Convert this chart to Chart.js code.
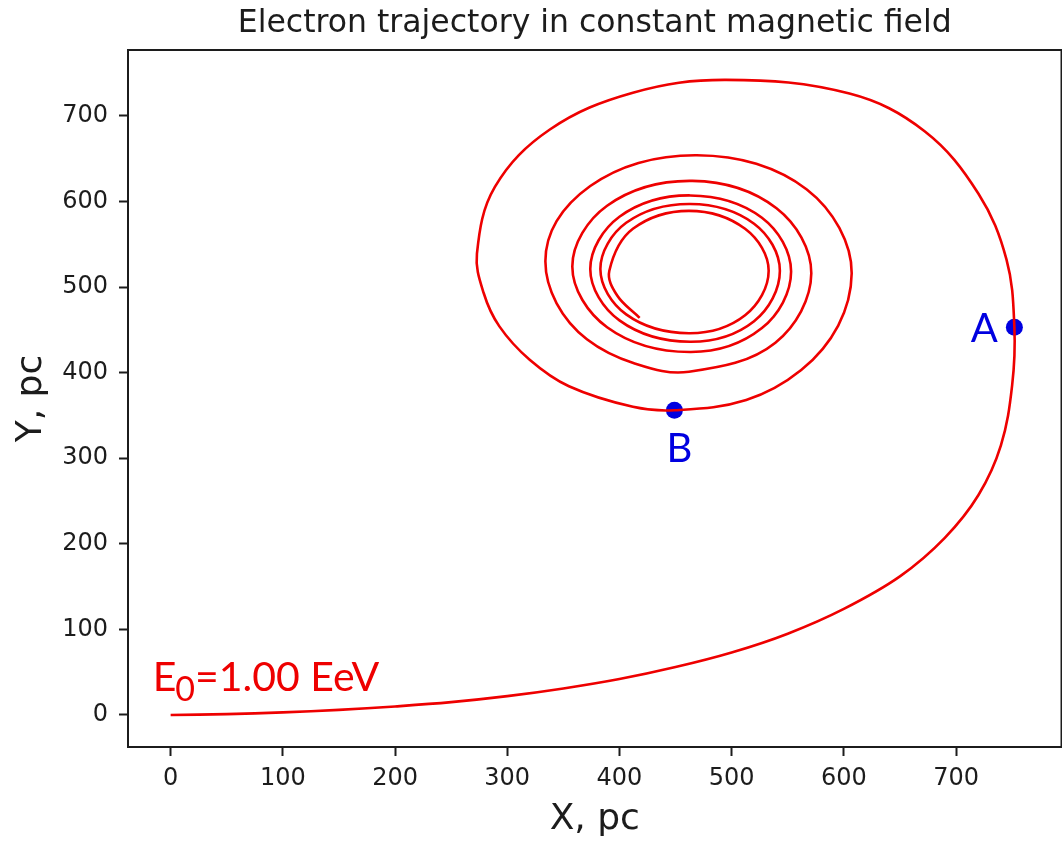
<!DOCTYPE html>
<html>
<head>
<meta charset="utf-8">
<title>Electron trajectory</title>
<script src="https://cdn.jsdelivr.net/npm/chart.js@4.4.1/dist/chart.umd.min.js"></script>
<style>
  html, body { margin: 0; padding: 0; background: #fff; overflow: hidden; }
  #wrap { position: relative; width: 1070px; height: 841px; }
</style>
</head>
<body>
<div id="wrap"><canvas id="trajChart"></canvas></div>
<script>
// trajectory, pc
const trajX = [0, 50, 100, 150, 200, 250, 300, 350, 400, 450, 500, 550, 600, 650, 690, 720, 740, 750, 752,
  745, 720, 672, 605, 495,
  412, 338, 289, 273,
  279, 293, 320, 355, 412, 449,
  513, 562, 595, 607, 596, 567, 522, 469, 417, 374, 344, 334, 344, 371, 413, 462,
  539, 571, 540, 465, 389, 358, 389, 463,
  527, 553, 527, 463, 400, 374, 400, 463, 520, 543, 520, 463, 406, 383, 406, 462,
  512, 533, 512, 462, 412, 391, 398, 418];
const trajY = [0, 1, 3, 6, 10, 15, 22, 31, 42, 56, 73, 95, 124, 162, 207, 257, 315, 385, 453,
  532, 609, 682, 726, 742,
  727, 684, 617, 539,
  493, 454, 415, 384, 360, 356,
  368, 403, 455, 516, 569, 614, 644, 654, 645, 618, 577, 530, 481, 439, 411, 401,
  435, 516, 592, 624, 595, 524, 453, 424,
  452, 518, 581, 607, 582, 521, 461, 436, 460, 519, 574, 597, 575, 521, 468, 446,
  467, 519, 568, 589, 568, 519, 490, 464];

// marked points
const markX = [752, 449];
const markY = [453, 356];
const markNames = ['A', 'B'];

const xTicks = [0, 100, 200, 300, 400, 500, 600, 700];
const yTicks = [0, 100, 200, 300, 400, 500, 600, 700];

const energyText = ['E', '0', '=1.00 EeV'];

const RED = '#ee0000';
const BLUE = '#0000e0';
const INK = '#1c1c1c';

// frame, title, axis names and labels
const overlay = {
    id: 'overlay',
    afterDraw(chart) {
        const ctx = chart.ctx;
        const area = chart.chartArea;
        const xs = chart.scales.x;
        const ys = chart.scales.y;
        ctx.save();

        ctx.strokeStyle = INK;
        ctx.lineWidth = 2;
        ctx.strokeRect(area.left, area.top, area.right - area.left, area.bottom - area.top);

        const cx = (area.left + area.right) / 2;
        ctx.fillStyle = INK;
        ctx.textAlign = 'center';
        ctx.textBaseline = 'alphabetic';
        ctx.font = '31.5px "DejaVu Sans"';
        ctx.fillText('Electron trajectory in constant magnetic field', cx, 32);

        ctx.font = '36px "DejaVu Sans"';
        ctx.fillText('X, pc', cx, 829);
        ctx.save();
        ctx.translate(41, (area.top + area.bottom) / 2);
        ctx.rotate(-Math.PI / 2);
        ctx.fillText('Y, pc', 0, 0);
        ctx.restore();

        // point names
        ctx.fillStyle = BLUE;
        ctx.font = '40px Lato';
        const offs = [[-30, 15], [5, 52]];
        markNames.forEach((name, i) => {
            const px = xs.getPixelForValue(markX[i]);
            const py = ys.getPixelForValue(markY[i]);
            ctx.fillText(name, px + offs[i][0], py + offs[i][1]);
        });

        // energy label
        ctx.fillStyle = RED;
        ctx.textAlign = 'left';
        let ex = xs.getPixelForValue(0) - 18;
        const ey = ys.getPixelForValue(0) - 24;
        ctx.font = '41px Lato';
        ctx.fillText(energyText[0], ex, ey);
        ex += ctx.measureText(energyText[0]).width - 1;
        ctx.font = '34px Lato';
        ctx.fillText(energyText[1], ex, ey + 10);
        ex += ctx.measureText(energyText[1]).width;
        ctx.font = '41px Lato';
        ctx.fillText(energyText[2], ex, ey);

        ctx.restore();
    }
};

const axisGrid = {
    display: true,
    drawOnChartArea: false,
    drawTicks: true,
    tickLength: 9,
    tickWidth: 2,
    tickColor: INK
};

new Chart(document.getElementById('trajChart'), {
    type: 'scatter',
    data: {
        datasets: [{
            type: 'line',
            label: 'trajectory',
            data: trajX.map((x, i) => ({ x: x, y: trajY[i] })),
            borderColor: RED,
            borderWidth: 2.6,
            pointRadius: 0,
            tension: 0.37,
            fill: false,
            order: 0
        }, {
            label: 'points',
            data: markX.map((x, i) => ({ x: x, y: markY[i] })),
            pointRadius: 8.5,
            pointBackgroundColor: BLUE,
            pointBorderWidth: 0,
            order: 1
        }]
    },
    options: {
        responsive: true,
        maintainAspectRatio: false,
        animation: false,
        layout: { padding: { top: 50, left: 0, right: 6, bottom: 0 } },
        plugins: {
            legend: { display: false },
            tooltip: { enabled: false },
            title: { display: false }
        },
        scales: {
            x: {
                type: 'linear',
                min: -38,
                max: 794,
                grid: axisGrid,
                border: { display: false },
                afterBuildTicks: s => { s.ticks = xTicks.map(v => ({ value: v })); },
                afterFit: s => { s.height = 94; },
                ticks: {
                    color: INK,
                    padding: 8,
                    maxRotation: 0,
                    font: { family: 'DejaVu Sans', size: 24 }
                }
            },
            y: {
                type: 'linear',
                min: -37.4,
                max: 776.9,
                grid: axisGrid,
                border: { display: false },
                afterBuildTicks: s => { s.ticks = yTicks.map(v => ({ value: v })); },
                afterFit: s => { s.width = 128; },
                ticks: {
                    color: INK,
                    padding: 11,
                    font: { family: 'DejaVu Sans', size: 24 }
                }
            }
        }
    },
    plugins: [overlay]
});
</script>
</body>
</html>
